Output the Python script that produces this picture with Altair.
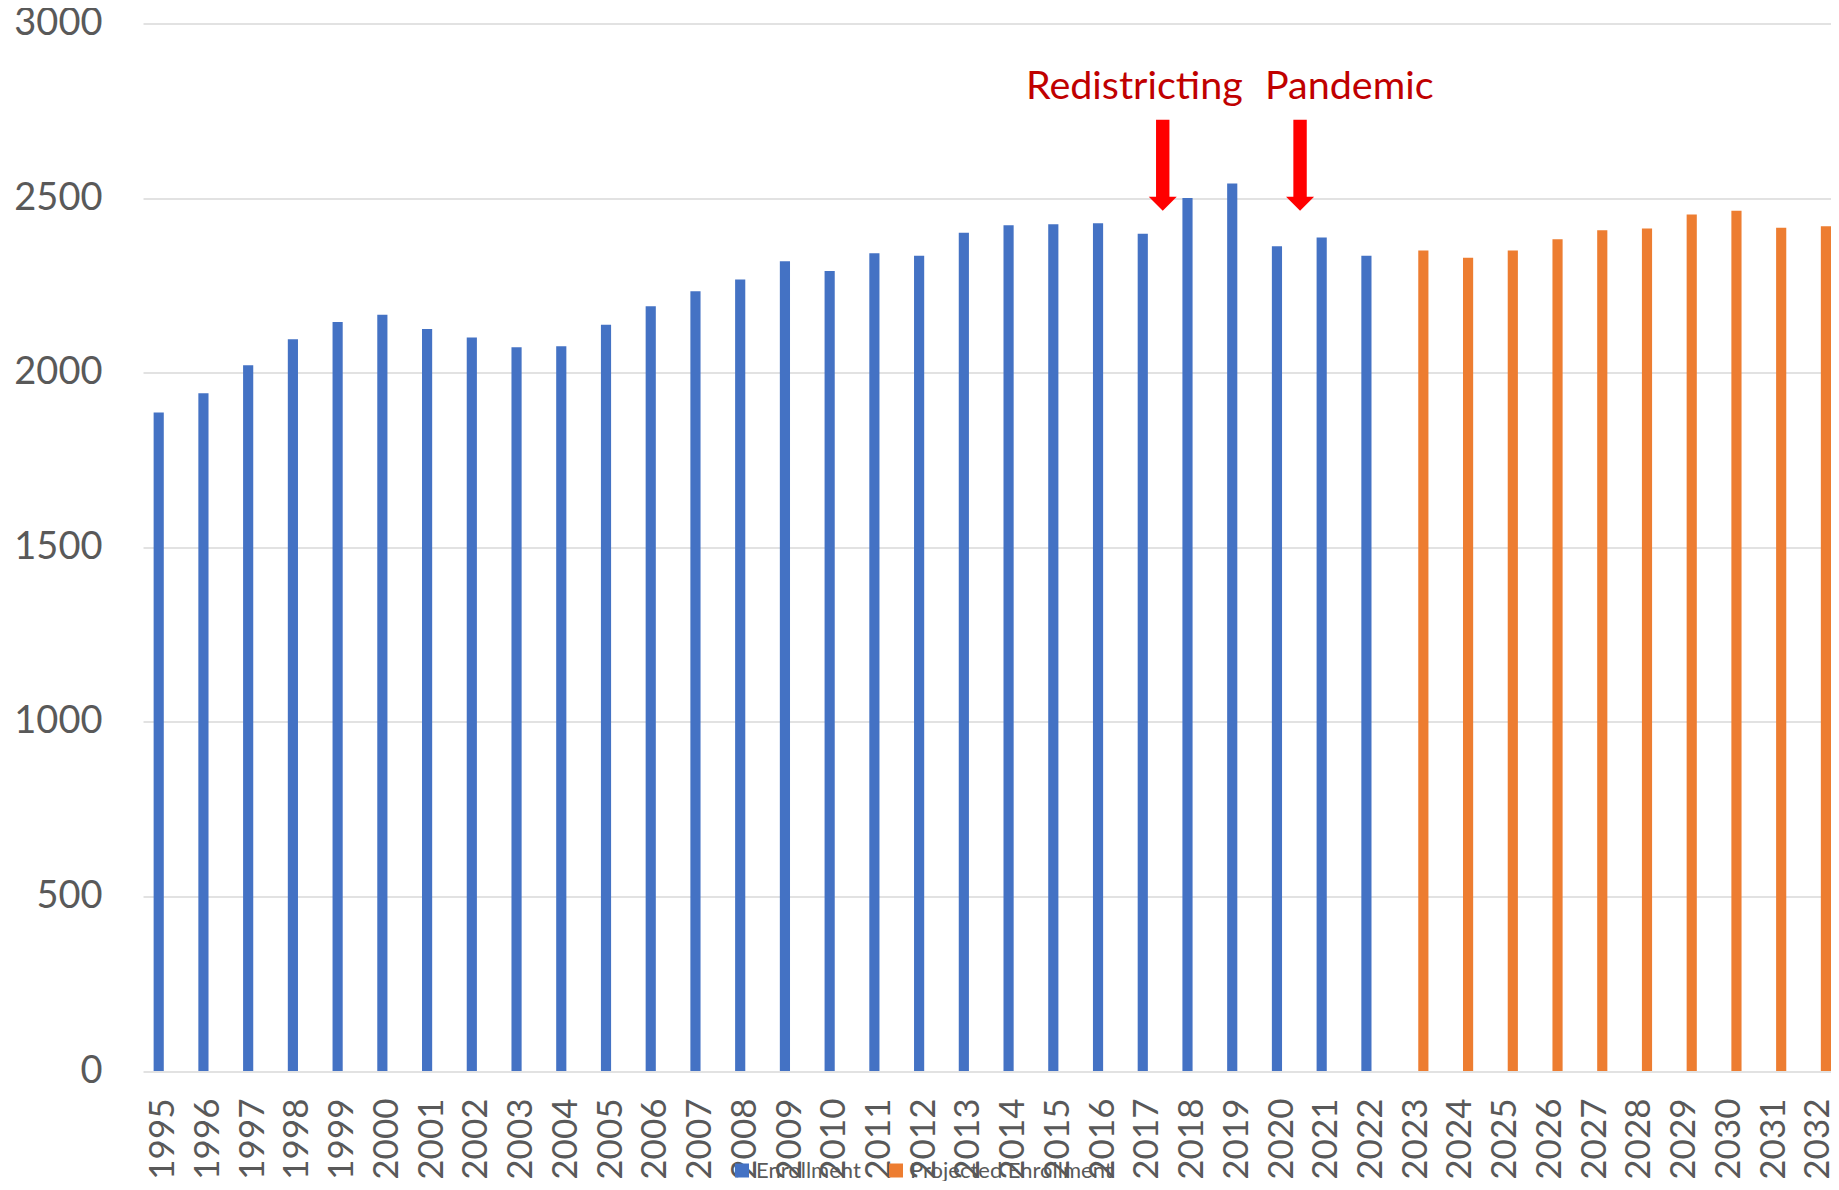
import altair as alt
import pandas as pd

# ---------------- data ----------------
enroll_years = [str(y) for y in range(1995, 2023)]
enrollment = [1886, 1941, 2021, 2096, 2145, 2166, 2125, 2101, 2073, 2076,
              2137, 2190, 2233, 2267, 2319, 2291, 2342, 2335, 2401, 2422,
              2425, 2428, 2398, 2500, 2542, 2362, 2387, 2335]
proj_years = [str(y) for y in range(2023, 2033)]
projected = [2350, 2329, 2350, 2382, 2408, 2413, 2453, 2464, 2415, 2419]
all_years = enroll_years + proj_years
series_names = ["Enrollment", "Projected Enrollment"]
series_colors = ["#4472C4", "#ED7D31"]
y_ticks = [0, 500, 1000, 1500, 2000, 2500, 3000]

# annotation events (positions in year units / enrollment units)
events = ["Redistricting", "Pandemic"]
event_label_pos = [2016.675, 2021.48]
event_arrow_pos = [2017.31, 2020.38]
label_level = [2783, 2783]
arrow_top = [2724, 2724]
arrow_head_base = [2500, 2500]
arrow_head_mid = [2484, 2484]

rows = [{"Year": y, "Series": series_names[0], "Value": v}
        for y, v in zip(enroll_years, enrollment)]
rows += [{"Year": y, "Series": series_names[1], "Value": v}
         for y, v in zip(proj_years, projected)]
df = pd.DataFrame(rows)

ann = pd.DataFrame({
    "event": events,
    "tx": event_label_pos,
    "ax": event_arrow_pos,
    "ty": label_level,
    "top": arrow_top,
    "base": arrow_head_base,
    "mid": arrow_head_mid,
})

FONT = "Lato"
GRAY = "#595959"
GRID = "#D9D9D9"

# ---------------- layout of the band scale ----------------
W, H = 1688, 1047.5
N = len(all_years)
P_IN = 0.5
STEP = 44.73
ALIGN = 1
P_OUT = (W / STEP - (N - P_IN)) / 2
# matching quantitative domain (year units) for annotation layers
q_lo = 1995 - (ALIGN * 2 * P_OUT + (1 - P_IN) / 2)
q_hi = q_lo + W / STEP

yscale = alt.Scale(domain=[0, 3000], nice=False)


def yaxis():
    return alt.Axis(title=None, values=y_ticks, format="d", labelFontSize=38,
                    labelFont=FONT, labelColor=GRAY, labelPadding=41,
                    ticks=False, domain=False, grid=True,
                    gridColor=GRID, gridWidth=1.3)


def xq(field):
    return alt.X(field, scale=alt.Scale(domain=[q_lo, q_hi], nice=False, zero=False),
                 axis=None)


bars = alt.Chart(df).mark_bar().encode(
    x=alt.X("Year:N", sort=all_years,
            scale=alt.Scale(paddingInner=P_IN, paddingOuter=P_OUT, align=ALIGN),
            axis=alt.Axis(title=None, labelAngle=270, labelFontSize=35,
                          labelFont=FONT, labelColor=GRAY, labelPadding=27,
                          labelOffset=-1.5,
                          ticks=False, domain=False, grid=False)),
    xOffset=alt.XOffset("Series:N", sort=series_names,
                        scale=alt.Scale(domain=series_names, paddingInner=0.167,
                                        paddingOuter=0)),
    y=alt.Y("Value:Q", scale=yscale, axis=yaxis()),
    color=alt.Color("Series:N",
                    scale=alt.Scale(domain=series_names, range=series_colors),
                    legend=alt.Legend(title=None, orient="none",
                                      direction="horizontal",
                                      legendX=588, legendY=1136,
                                      symbolType="square", symbolSize=196,
                                      symbolStrokeWidth=0,
                                      labelFontSize=22, labelFont=FONT,
                                      labelColor=GRAY, labelOffset=3,
                                      labelLimit=500,
                                      columnPadding=24)),
)

shafts = alt.Chart(ann).mark_rule(color="#FF0000", strokeWidth=13.4).encode(
    x=xq("ax:Q"),
    y=alt.Y("top:Q", scale=yscale, axis=yaxis()),
    y2="base:Q",
)

heads = alt.Chart(ann).mark_point(
    shape="M-1,-0.5L1,-0.5L0,0.5Z", filled=True, color="#FF0000",
    strokeWidth=0, size=784, opacity=1,
).encode(
    x=xq("ax:Q"),
    y=alt.Y("mid:Q", scale=yscale, axis=yaxis()),
)

texts = alt.Chart(ann).mark_text(
    font=FONT, fontSize=39.5, color="#C00000", align="center",
    baseline="alphabetic",
).encode(
    x=xq("tx:Q"),
    y=alt.Y("ty:Q", scale=yscale, axis=yaxis()),
    text="event:N",
)

chart = alt.layer(bars, shafts, heads, texts).resolve_scale(
    x="independent"
).properties(
    width=W, height=H,
    autosize=alt.AutoSizeParams(type="none"),
    padding={"left": 135, "top": 15.5, "right": 0, "bottom": 110},
    background="white",
).configure_view(stroke=None)

chart.save("out.html", embed_options={"renderer": "svg", "actions": False})
